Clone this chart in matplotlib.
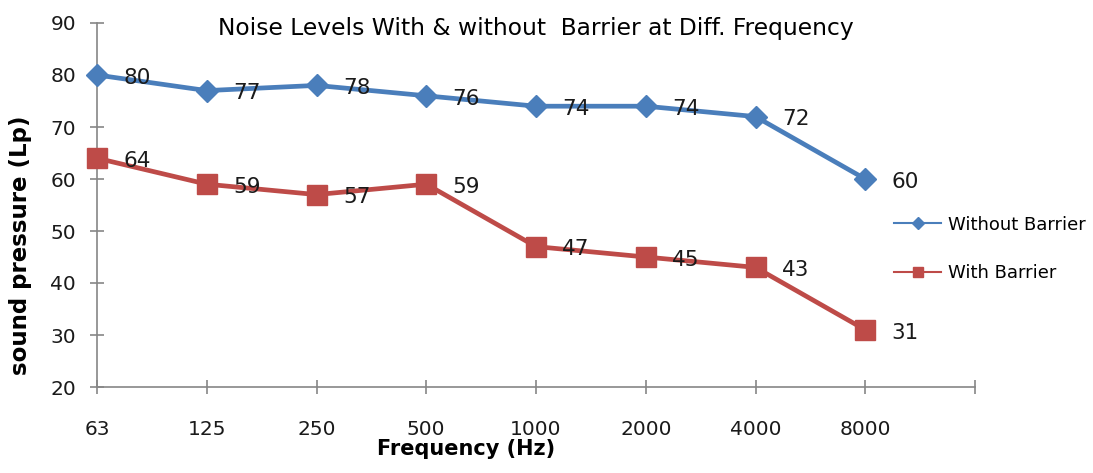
import matplotlib
matplotlib.use("Agg")
import matplotlib.pyplot as plt
from matplotlib.lines import Line2D

plt.rcParams['font.family'] = ['DejaVu Sans']

freqs = ['63', '125', '250', '500', '1000', '2000', '4000', '8000']
without_barrier = [80, 77, 78, 76, 74, 74, 72, 60]
with_barrier = [64, 59, 57, 59, 47, 45, 43, 31]

blue = '#4a7ebb'
red = '#be4b48'
grey = '#868686'

fig = plt.figure(figsize=(10.93, 4.73), dpi=100)
ax = fig.add_axes([97/1093, 1 - 387/473, (975 - 97)/1093, (387 - 23)/473])

x = list(range(len(freqs)))
ax.plot(x, without_barrier, color=blue, lw=3.4, marker='D', markersize=11.5,
        label='Without Barrier', zorder=3, clip_on=False)
ax.plot(x, with_barrier, color=red, lw=3.4, marker='s', markersize=14,
        label='With Barrier', zorder=3, clip_on=False)

# data labels sit right of each point, a little low
for series in (without_barrier, with_barrier):
    for xi, v in zip(x, series):
        ax.annotate(str(v), (xi, v), xytext=(19, -2), textcoords='offset points',
                    ha='left', va='center', fontsize=15.5, color='#1a1a1a')

ax.set_xlim(0, len(freqs))
ax.set_ylim(20, 90)
ax.set_yticks(range(20, 91, 10))
ax.set_xticks(range(len(freqs) + 1))
ax.set_xticklabels(freqs + [''])

for s in ['top', 'right']:
    ax.spines[s].set_visible(False)
for s in ['left', 'bottom']:
    ax.spines[s].set_color(grey)
    ax.spines[s].set_linewidth(1.2)
ax.tick_params(axis='both', colors=grey, labelcolor='#1a1a1a', labelsize=14.5,
               direction='inout', length=10, width=1.2)
ax.tick_params(axis='x', pad=19)
ax.tick_params(axis='y', pad=10)

ax.set_xlabel('Frequency (Hz)', fontsize=15, fontweight='bold')
ax.xaxis.set_label_coords(0.42, -0.142)
ax.set_ylabel('sound pressure (Lp)', fontsize=16.5, fontweight='bold')
ax.yaxis.set_label_coords(-0.074, 0.39)
ax.set_title('Noise Levels With & without  Barrier at Diff. Frequency',
             fontsize=16.8, x=0.5, y=0.945)

handles = [Line2D([0], [0], color=blue, lw=1.5, marker='D', markersize=6),
           Line2D([0], [0], color=red, lw=1.5, marker='s', markersize=7)]
fig.legend(handles, ['Without Barrier', 'With Barrier'], loc='center left',
           bbox_to_anchor=(878/1093, 1 - 249/473), frameon=False, fontsize=13,
           labelspacing=1.7, handlelength=2.6, handletextpad=0.4)

fig.savefig('out.png', dpi=100)
